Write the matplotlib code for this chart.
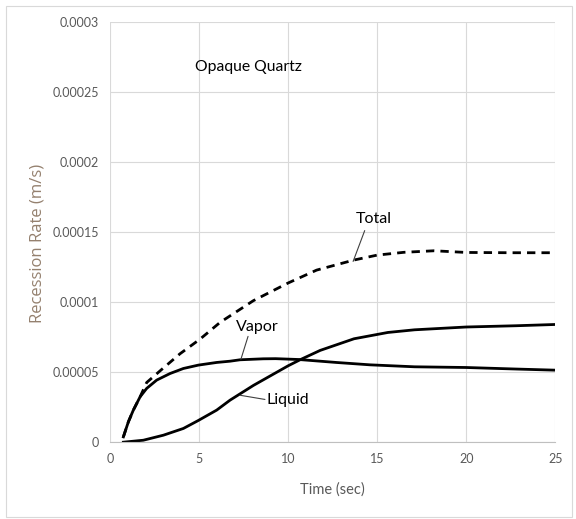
import matplotlib
matplotlib.use('Agg')
import matplotlib.pyplot as plt
from matplotlib.patches import Rectangle

# Данные
time_vapor = [0.75, 1.03, 1.31, 1.69, 2.06, 2.62, 3.37, 4.12, 4.96, 5.99, 6.74, 7.3,
              8.6, 9.3, 10.6, 12.7, 14.6, 17.1, 20.0, 22.8, 25.0]
vapor = [0.0000038, 0.0000145, 0.0000229, 0.0000324, 0.0000384, 0.0000443, 0.000049,
         0.0000526, 0.000055, 0.0000569, 0.0000578, 0.0000588, 0.0000595, 0.0000596,
         0.0000590, 0.0000569, 0.0000552, 0.0000538, 0.0000533, 0.0000522, 0.0000514]

time_liquid = [0.75, 1.87, 3.0, 4.12, 4.96, 5.99, 6.74, 8.05, 10.0, 10.7, 11.8, 13.7,
               15.6, 17.1, 20.0, 22.8, 25.0]
liquid = [0.0, 0.0000014, 0.000005, 0.0000098, 0.0000155, 0.0000229, 0.00003, 0.0000405,
          0.0000545, 0.0000590, 0.0000655, 0.0000738, 0.0000783, 0.0000802, 0.0000822,
          0.0000831, 0.0000840]

time_total = [0.75, 1.03, 1.31, 1.69, 2.06, 2.81, 3.93, 5.06, 6.18, 8.05, 10.0, 11.6,
              13.7, 15.0, 16.5, 18.2, 20.0, 22.5, 25.0]
total = [0.0000038, 0.0000145, 0.0000229, 0.0000324, 0.0000426, 0.0000509, 0.0000631,
         0.0000736, 0.0000855, 0.000101, 0.0001136, 0.0001228, 0.0001300, 0.0001335,
         0.0001355, 0.0001366, 0.0001354, 0.0001352, 0.0001352]

x_ticks = [0, 5, 10, 15, 20, 25]
y_ticks = [0, 0.00005, 0.0001, 0.00015, 0.0002, 0.00025, 0.0003]
y_tick_labels = ['0', '0.00005', '0.0001', '0.00015', '0.0002', '0.00025', '0.0003']

plt.rcParams['font.family'] = ['Lato', 'DejaVu Sans']

fig = plt.figure(figsize=(5.76, 5.19), dpi=100)
ax = fig.add_axes([0.191, 0.148, 0.773, 0.810])

# Рамка вокруг всей картинки
fig.patches.append(Rectangle((0.010, 0.004), 0.983, 0.985, transform=fig.transFigure,
                             fill=False, edgecolor='#d9d9d9', linewidth=0.8))

ax.plot(time_total, total, color='black', linewidth=2, linestyle=(0, (3, 2.2)))
ax.plot(time_vapor, vapor, color='black', linewidth=2)
ax.plot(time_liquid, liquid, color='black', linewidth=2)

ax.set_xlim(0, 25)
ax.set_ylim(0, 0.0003)
ax.set_xticks(x_ticks)
ax.set_yticks(y_ticks)
ax.set_yticklabels(y_tick_labels)
ax.grid(True, color='#d9d9d9', linewidth=0.8)
ax.set_axisbelow(True)
for side in ['left', 'right', 'top']:
    ax.spines[side].set_visible(False)
ax.spines['bottom'].set_color('#bfbfbf')
ax.tick_params(length=0, labelsize=9, colors='#595959', pad=8)

ax.set_xlabel('Time (sec)', fontsize=10.5, color='#595959', labelpad=12)
ax.set_ylabel('Recession Rate (m/s)', fontsize=12, color='#94806e',
              family=['Open Sans', 'DejaVu Sans'])
ax.yaxis.set_label_coords(-0.146, 0.473)

# Подписи кривых
ax.text(4.75, 0.000268, 'Opaque Quartz', fontsize=11.3, va='center', ha='left')
line_style = dict(arrowstyle='-', color='#404040', linewidth=0.8, shrinkA=0, shrinkB=0)
ax.text(14.8, 0.000159, 'Total', fontsize=11.5, ha='center', va='center')
ax.annotate('', xy=(13.65, 0.000129), xytext=(14.3, 0.000151), arrowprops=line_style)
ax.text(8.26, 0.0000821, 'Vapor', fontsize=11.5, ha='center', va='center')
ax.annotate('', xy=(7.35, 0.0000592), xytext=(7.75, 0.0000755), arrowprops=line_style)
ax.text(10.0, 0.0000299, 'Liquid', fontsize=11.5, ha='center', va='center')
ax.annotate('', xy=(7.3, 0.0000335), xytext=(8.7, 0.0000305), arrowprops=line_style)

fig.savefig('out.png', dpi=100)
